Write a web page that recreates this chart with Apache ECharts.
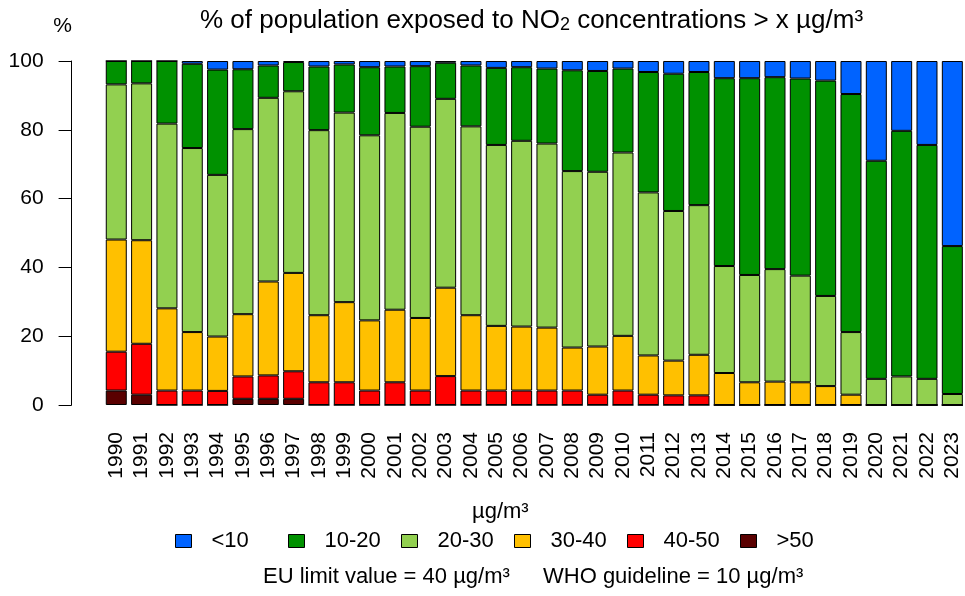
<!DOCTYPE html>
<html>
<head>
<meta charset="utf-8">
<script src="https://cdn.jsdelivr.net/npm/echarts@6/dist/echarts.min.js"></script>
<style>
  html, body { margin: 0; padding: 0; background: #fff; }
  #chart { width: 965px; height: 596px; }
</style>
</head>
<body>
<div id="chart"></div>
<script>
const years = ['1990','1991','1992','1993','1994','1995','1996','1997','1998','1999',
  '2000','2001','2002','2003','2004','2005','2006','2007','2008','2009',
  '2010','2011','2012','2013','2014','2015','2016','2017','2018','2019',
  '2020','2021','2022','2023'];

// % of population per concentration class (µg/m³)
const over50 = [4.2,3.0,0,0,0,1.8,1.8,1.8,0,0,0,0,0,0,0,0,0,0,0,0,0,0,0,0,0,0,0,0,0,0,0,0,0,0];
const c40to50 = [11.3,14.8,4.2,4.2,4.1,6.5,6.8,8.0,6.6,6.6,4.2,6.6,4.2,8.4,4.2,4.2,4.2,4.2,4.2,3.0,4.2,3.0,2.8,2.8,0,0,0,0,0,0,0,0,0,0];
const c30to40 = [32.6,30.1,23.9,17.0,15.8,18.1,27.3,28.6,19.5,23.3,20.4,21.1,21.1,25.7,21.9,18.8,18.6,18.3,12.5,14.0,15.9,11.4,10.1,11.8,9.3,6.6,6.8,6.6,5.5,3.0,0,0,0,0];
const c20to30 = [45.1,45.6,53.7,53.5,47.0,53.8,53.4,52.8,53.8,55.1,53.8,57.2,55.6,54.9,54.9,52.6,54.0,53.5,51.3,50.8,53.3,47.4,43.5,43.5,31.1,31.2,32.7,31.0,26.2,18.2,7.6,8.3,7.6,3.2];
const c10to20 = [6.8,6.5,18.2,24.5,30.6,17.4,9.4,8.5,18.5,14.0,19.8,13.5,17.6,10.5,17.7,22.4,21.4,21.8,29.3,29.3,24.4,35.0,39.9,38.7,54.6,57.2,55.8,57.3,62.6,69.2,63.4,71.4,68.0,43.0];
const under10 = [0,0,0,0.8,2.5,2.4,1.3,0.3,1.6,1.0,1.8,1.6,1.5,0.5,1.3,2.0,1.8,2.2,2.7,2.9,2.2,3.2,3.7,3.2,5.0,5.0,4.7,5.1,5.7,9.6,29.0,20.3,24.4,53.8];

const legendNames = ['<10', '10-20', '20-30', '30-40', '40-50', '>50'];
const yTicks = [0, 20, 40, 60, 80, 100];

const font = 'Liberation Sans, Arial, sans-serif';
const colors = {
  '>50': '#5a0000',
  '40-50': '#ff0000',
  '30-40': '#ffc000',
  '20-30': '#92d050',
  '10-20': '#009100',
  '<10': '#0063ff'
};

// bottom to top
const stackOrder = [
  ['>50', over50],
  ['40-50', c40to50],
  ['30-40', c30to40],
  ['20-30', c20to30],
  ['10-20', c10to20],
  ['<10', under10]
];

const plain = { fontSize: 22, fontWeight: 'normal', color: '#000', fontFamily: font };

const chart = echarts.init(document.getElementById('chart'));

chart.setOption({
  animation: false,
  textStyle: { fontFamily: font },
  title: [
    {
      text: '{a|% of population exposed to NO}{s|2}{a| concentrations > x µg/m³}',
      left: 200, top: 4, padding: 0,
      textStyle: {
        rich: {
          a: { fontSize: 26, fontWeight: 'normal', color: '#000', fontFamily: font, lineHeight: 30, verticalAlign: 'bottom' },
          s: { fontSize: 18, fontWeight: 'normal', color: '#000', fontFamily: font, lineHeight: 12, verticalAlign: 'bottom' }
        }
      }
    },
    { text: 'µg/m³', left: 472, top: 501, padding: 0, textStyle: plain },
    { text: 'EU limit value = 40 µg/m³', left: 263, top: 566, padding: 0, textStyle: plain },
    { text: 'WHO guideline = 10 µg/m³', left: 543, top: 566, padding: 0, textStyle: plain }
  ],
  legend: legendNames.map((name, i) => ({
    data: [name],
    left: 175 + 113 * i,
    top: 530,
    padding: 0,
    itemWidth: 16,
    itemHeight: 13,
    icon: 'rect',
    selectedMode: false,
    itemStyle: { borderColor: '#000', borderWidth: 1 },
    textStyle: { fontSize: 22, color: '#000', fontFamily: font, padding: [0, 0, 0, 15] }
  })),
  grid: { left: 103.6, top: 61, width: 863, bottom: 191 },
  xAxis: {
    type: 'category',
    data: years,
    axisLine: { show: false },
    axisTick: { show: false },
    axisLabel: { rotate: 90, margin: 27, fontSize: 21, color: '#000', fontFamily: font, interval: 0 }
  },
  yAxis: {
    type: 'value',
    min: yTicks[0],
    max: yTicks[yTicks.length - 1],
    interval: 20,
    offset: 32,
    name: '%',
    nameLocation: 'end',
    nameGap: 24,
    nameTextStyle: { fontSize: 21, color: '#000', fontFamily: font, padding: [0, 18, 0, 0] },
    splitLine: { show: false },
    axisLine: { show: true, lineStyle: { color: '#000', width: 1 } },
    axisTick: { show: true, length: 13, lineStyle: { color: '#000' } },
    axisLabel: { fontSize: 21, color: '#000', fontFamily: font, margin: 28 }
  },
  series: stackOrder.map(([name, values]) => ({
    name: name,
    type: 'bar',
    stack: 'total',
    data: values,
    barWidth: 21,
    itemStyle: { color: colors[name], borderColor: '#000', borderWidth: 1 }
  }))
});
</script>
</body>
</html>
